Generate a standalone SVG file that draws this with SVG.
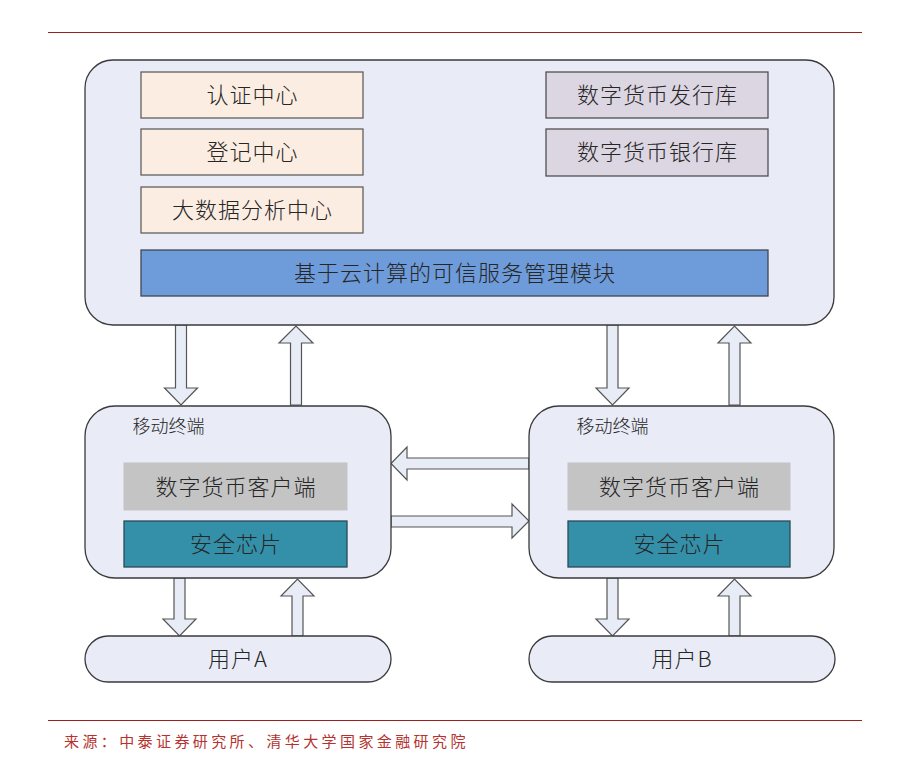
<svg xmlns="http://www.w3.org/2000/svg" width="904" height="765" viewBox="0 0 904 765">
<style>
.t{font-family:"Noto Sans CJK SC","Noto Sans",sans-serif;fill:#262626;text-anchor:middle;font-weight:300}
.big{font-size:22px;letter-spacing:1px}
.small{font-size:18px}
.cont{fill:#e9ecf7;stroke:#3a3a3a;stroke-width:1.3}
.peach{fill:#fcede2;stroke:#606060;stroke-width:1.3}
.purple{fill:#dcd5e2;stroke:#505050;stroke-width:1.3}
.blue{fill:#6e9bda;stroke:#404850;stroke-width:1.3}
.gray{fill:#c4c4c4;stroke:#c4c4c4}
.teal{fill:#3490a9;stroke:#2a4a55;stroke-width:1.3}
.arr{fill:#e8ecf6;stroke:#555;stroke-width:1.2;stroke-linejoin:miter}
.rule{stroke:#9e1f1f;stroke-width:1}
</style>
<rect width="904" height="765" fill="#ffffff"/>
<line class="rule" x1="48" y1="32.5" x2="862" y2="32.5"/>
<g id="connectors">
<polygon class="arr" points="175.5,325 186.5,325 186.5,388 197.5,388 181,405 164.5,388 175.5,388"/>
<polygon class="arr" points="290.5,405 301.5,405 301.5,343 313,343 296,326 279,343 290.5,343"/>
<polygon class="arr" points="607,325 618,325 618,388 629,388 612.5,405 596,388 607,388"/>
<polygon class="arr" points="729,405 740,405 740,343 751,343 734.5,326 718,343 729,343"/>
<polygon class="arr" points="174,578 185,578 185,619 196,619 179.5,636 163,619 174,619"/>
<polygon class="arr" points="292,636 303,636 303,596 314,596 297.5,579 281,596 292,596"/>
<polygon class="arr" points="607,578 618,578 618,619 629,619 612.5,636 596,619 607,619"/>
<polygon class="arr" points="729,636 740,636 740,596 751,596 734.5,579 718,596 729,596"/>
<polygon class="arr" points="529,458 407,458 407,447 391,463.5 407,480 407,469 529,469"/>
<polygon class="arr" points="391,516 512,516 512,504 529,521 512,538 512,527 391,527"/>
</g>
<g id="platform">
<rect class="cont" x="85" y="60" width="749" height="265" rx="28"/>
</g>
<g id="auth-center">
<rect class="peach" x="141" y="72" width="222" height="46"/>
<text class="t big" x="252.5" y="103">认证中心</text>
</g>
<g id="register-center">
<rect class="peach" x="141" y="129" width="222" height="46"/>
<text class="t big" x="252.5" y="160">登记中心</text>
</g>
<g id="bigdata-center">
<rect class="peach" x="141" y="187" width="222" height="46"/>
<text class="t big" x="252.5" y="218">大数据分析中心</text>
</g>
<g id="issue-db">
<rect class="purple" x="546" y="72" width="222" height="46"/>
<text class="t big" x="657.5" y="103">数字货币发行库</text>
</g>
<g id="bank-db">
<rect class="purple" x="546" y="129" width="222" height="47"/>
<text class="t big" x="657.5" y="160">数字货币银行库</text>
</g>
<g id="cloud-module">
<rect class="blue" x="141" y="250" width="627" height="46"/>
<text class="t big" x="455" y="281">基于云计算的可信服务管理模块</text>
</g>
<g id="terminal-a">
<rect class="cont" x="85" y="406" width="306" height="172" rx="30"/>
<text class="t small" x="168.5" y="433">移动终端</text>
<rect class="gray" x="124" y="463" width="223" height="47"/>
<text class="t big" x="236" y="495">数字货币客户端</text>
<rect class="teal" x="124" y="521" width="223" height="46"/>
<text class="t big" x="236" y="552">安全芯片</text>
</g>
<g id="terminal-b">
<rect class="cont" x="529" y="406" width="305" height="172" rx="30"/>
<text class="t small" x="612.5" y="433">移动终端</text>
<rect class="gray" x="568" y="463" width="222" height="47"/>
<text class="t big" x="679.5" y="495">数字货币客户端</text>
<rect class="teal" x="568" y="521" width="222" height="46"/>
<text class="t big" x="679.5" y="552">安全芯片</text>
</g>
<g id="user-a">
<rect class="cont" x="85" y="636" width="306" height="46" rx="23"/>
<text class="t big" x="238" y="667">用户A</text>
</g>
<g id="user-b">
<rect class="cont" x="529" y="636" width="306" height="46" rx="23"/>
<text class="t big" x="682" y="667">用户B</text>
</g>
<line class="rule" x1="48" y1="720.5" x2="862" y2="720.5"/>
<text x="64" y="747" font-family="Noto Sans CJK SC, Noto Sans, sans-serif" font-size="15" letter-spacing="3.4" fill="#b5322e">来源：中泰证券研究所、清华大学国家金融研究院</text>
</svg>
